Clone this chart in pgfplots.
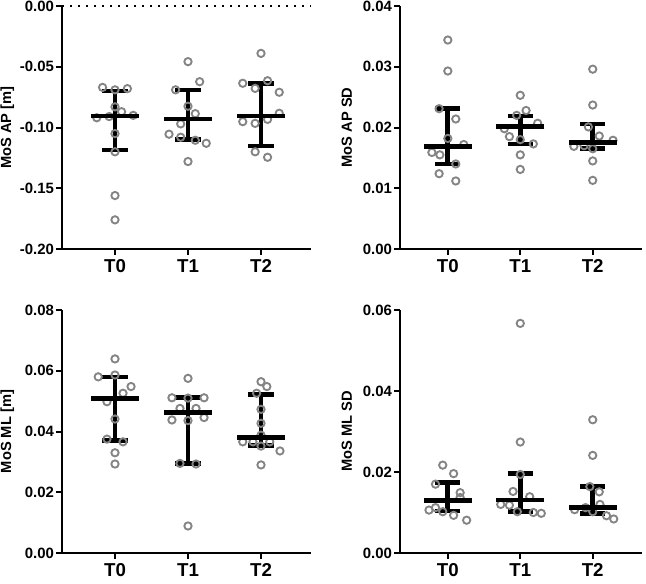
\documentclass[border=0pt]{standalone}
\usepackage{fontspec}
\setmainfont{Liberation Sans}
\usepackage{pgfplots}
\usepackage{pgfplotstable}
\pgfplotsset{compat=1.18}
\definecolor{ptgray}{RGB}{132,132,132}

% ---- panel 1: MoS AP [m]
\pgfplotstableread{
x y
-0.17 -0.067
0 -0.069
0.17 -0.068
0 -0.083
0.09 -0.087
-0.25 -0.092
-0.08 -0.091
0.25 -0.090
0 -0.105
0 -0.120
0 -0.156
0 -0.176
1 -0.0458
1.16 -0.0623
0.83 -0.069
1 -0.0825
1.1 -0.0886
0.9 -0.097
0.74 -0.1055
0.9 -0.108
1.1 -0.1105
1.25 -0.113
1 -0.128
2 -0.039
1.75 -0.0636
1.92 -0.0678
2.09 -0.0615
2.25 -0.071
2.25 -0.0883
2.09 -0.0933
1.75 -0.0952
1.92 -0.0966
1.92 -0.120
2.09 -0.1245
}\ptsA
\pgfplotstableread{
x med lo hi
0 -0.0905 -0.1185 -0.070
1 -0.0930 -0.1097 -0.069
2 -0.0905 -0.1152 -0.0637
}\sumA

% ---- panel 2: MoS AP SD
\pgfplotstableread{
x y
0 0.0344
0 0.0293
-0.12 0.0231
0.11 0.0214
0 0.0182
0.22 0.0172
-0.22 0.0159
-0.11 0.0155
0.11 0.0140
-0.12 0.0124
0.11 0.0112
1 0.0253
1.08 0.0228
0.95 0.0220
1.24 0.0207
0.78 0.0198
0.85 0.0185
1 0.0180
1.18 0.0173
1 0.0155
1 0.0131
2 0.0296
2 0.0237
1.94 0.0201
2.09 0.0186
2.28 0.0179
1.74 0.0169
1.88 0.0170
2 0.0165
2 0.0145
2 0.0113
}\ptsB
\pgfplotstableread{
x med lo hi
0 0.0169 0.0140 0.0231
1 0.0202 0.0173 0.0219
2 0.0175 0.0165 0.0206
}\sumB

% ---- panel 3: MoS ML [m]
\pgfplotstableread{
x y
0 0.0639
-0.23 0.0580
0 0.0586
0.22 0.0548
0.11 0.0526
-0.11 0.0498
0 0.0441
-0.11 0.0375
0.11 0.0366
0 0.0330
0 0.0293
1 0.0575
0.78 0.0511
1.22 0.0511
0.89 0.0476
1.11 0.0476
0.78 0.0438
1 0.0436
1.22 0.0446
0.89 0.0295
1.11 0.0293
1 0.0089
1 0.0510
2 0.0564
2.08 0.0548
1.94 0.0526
2 0.0473
2 0.0427
2 0.0388
1.75 0.0366
1.89 0.0366
2.12 0.0366
2 0.0352
2.26 0.0336
2 0.0290
}\ptsC
\pgfplotstableread{
x med lo hi
0 0.0509 0.0370 0.0580
1 0.0462 0.0295 0.0511
2 0.0381 0.0353 0.0522
}\sumC

% ---- panel 4: MoS ML SD
\pgfplotstableread{
x y
-0.07 0.0217
0.08 0.0196
-0.17 0.0170
0.17 0.0149
0.17 0.0137
-0.26 0.0106
-0.17 0.0112
-0.07 0.0102
0.08 0.0093
0.26 0.0081
1 0.0567
1 0.0274
1 0.0194
0.9 0.0152
1.13 0.0139
0.73 0.0120
0.85 0.0118
0.96 0.0102
1.18 0.0100
1.29 0.0098
2 0.0329
2 0.0241
1.96 0.0164
2.09 0.0151
1.75 0.0107
1.9 0.0112
2.1 0.0120
2 0.0102
2.19 0.0092
2.29 0.0084
}\ptsD
\pgfplotstableread{
x med lo hi
0 0.0129 0.0104 0.0174
1 0.0131 0.0102 0.0196
2 0.0112 0.0098 0.0164
}\sumD

\pgfplotsset{
  mos/.style={
    scale only axis, height=182.25pt,
    anchor=south west,
    axis lines=left, axis line style={-, line width=1.5pt, black},
    xtick={0,1,2}, xticklabels={T0,T1,T2},
    tick align=outside, major tick length=4.5pt,
    tick style={line width=1.5pt, black},
    scaled y ticks=false,
    /pgf/number format/assume math mode=true,
    /pgf/number format/fixed,
    /pgf/number format/fixed zerofill,
    /pgf/number format/precision=2,
    yticklabel style={font=\bfseries\fontsize{11.2}{13}\selectfont, xshift=2pt},
    xticklabel style={font=\bfseries\fontsize{14}{16}\selectfont},
    ylabel style={at={(axis description cs:-0.22,0.5)}, anchor=center,
      font=\bfseries\fontsize{11}{13}\selectfont},
    clip=false,
  },
  leftp/.style={width=186.75pt, xmin=-0.726, xmax=2.685},
  rightp/.style={width=181.5pt, xmin=-0.66, xmax=2.68},
  pts/.style={only marks, mark=o, mark size=2.75pt,
    mark options={line width=1.4pt, draw=ptgray}},
  summ/.style={only marks, mark=-, mark size=18pt,
    mark options={line width=3.5pt, black},
    error bars/.cd, y dir=both, y explicit,
    error bar style={line width=3.5pt, black},
    error mark options={rotate=90, mark size=9.5pt, line width=3.5pt, black}},
}

\begin{document}
\begin{tikzpicture}
\path[use as bounding box] (-46.5pt,-22.5pt) rectangle (438pt,414.75pt);

% top-left
\begin{axis}[mos, leftp, at={(0pt,228pt)},
  ymin=-0.2, ymax=0, ytick={-0.2,-0.15,-0.1,-0.05,0},
  ylabel={MoS AP [m]}]
\addplot[black, line width=1.3pt, dash pattern=on 1.3pt off 4.7pt] coordinates {(-0.726,0) (2.685,0)};
\addplot[pts] table[x=x,y=y] {\ptsA};
\addplot[summ] table[x=x, y=med,
  y error plus expr=\thisrow{hi}-\thisrow{med},
  y error minus expr=\thisrow{med}-\thisrow{lo}] {\sumA};
\end{axis}

% top-right
\begin{axis}[mos, rightp, at={(253.5pt,228pt)},
  ymin=0, ymax=0.04, ytick={0,0.01,0.02,0.03,0.04},
  ylabel={MoS AP SD}]
\addplot[pts] table[x=x,y=y] {\ptsB};
\addplot[summ] table[x=x, y=med,
  y error plus expr=\thisrow{hi}-\thisrow{med},
  y error minus expr=\thisrow{med}-\thisrow{lo}] {\sumB};
\end{axis}

% bottom-left
\begin{axis}[mos, leftp, at={(0pt,0pt)},
  ymin=0, ymax=0.08, ytick={0,0.02,0.04,0.06,0.08},
  ylabel={MoS ML [m]}]
\addplot[pts] table[x=x,y=y] {\ptsC};
\addplot[summ] table[x=x, y=med,
  y error plus expr=\thisrow{hi}-\thisrow{med},
  y error minus expr=\thisrow{med}-\thisrow{lo}] {\sumC};
\end{axis}

% bottom-right
\begin{axis}[mos, rightp, at={(253.5pt,0pt)},
  ymin=0, ymax=0.06, ytick={0,0.02,0.04,0.06},
  ylabel={MoS ML SD}]
\addplot[pts] table[x=x,y=y] {\ptsD};
\addplot[summ] table[x=x, y=med,
  y error plus expr=\thisrow{hi}-\thisrow{med},
  y error minus expr=\thisrow{med}-\thisrow{lo}] {\sumD};
\end{axis}
\end{tikzpicture}
\end{document}
